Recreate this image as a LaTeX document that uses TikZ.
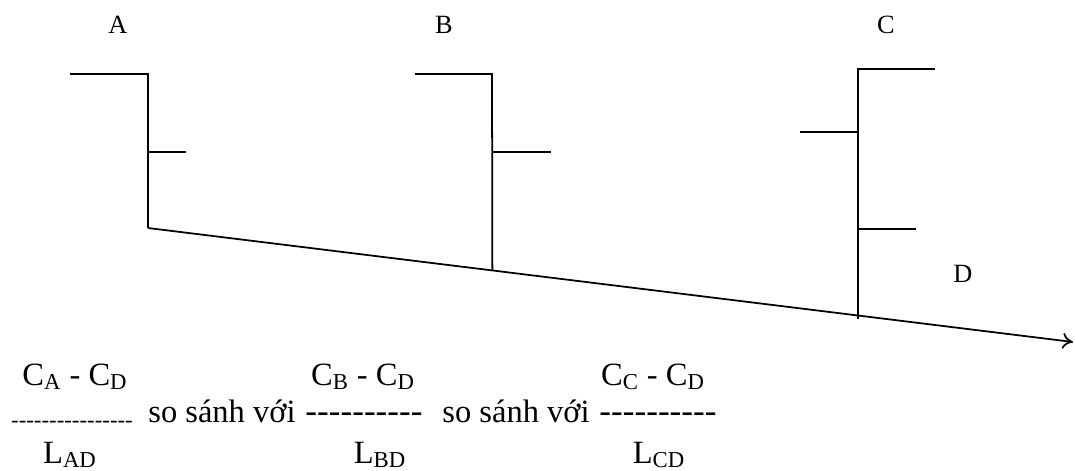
\documentclass[tikz,border=0pt]{standalone}
\usepackage{fontspec}
\setmainfont{Liberation Serif}
\usetikzlibrary{arrows.meta,calc}

\tikzset{
  pole/.style={line width=1pt},
  polename/.style={font=\fontsize{15}{18}\selectfont, inner sep=0pt, anchor=base},
  ratio/.style={font=\fontsize{18.5}{21}\selectfont, inner sep=0pt, anchor=base},
  dashes/.style={font=\fontsize{#1}{21}\selectfont\addfontfeature{Ligatures=TeXOff}, inner sep=0pt, anchor=base},
}

\begin{document}
\begin{tikzpicture}[x=0.02cm,y=-0.02cm]
\useasboundingbox (0,0) rectangle (1075,470);
% pole A
\coordinate (Atop) at (148,74);
\coordinate (Afoot) at (148,228);
\draw[pole] (70,74) -- (Atop) -- (Afoot);
\draw[pole] (148,152) -- (186,152);
\node[polename] (labA) at (118,33) {A};
% ground line
\coordinate (Dend) at (1073,342);
\draw[pole,-{To[length=6pt,width=9pt]}] (Afoot) -- (Dend);
% pole B
\coordinate (Btop) at (492,74);
\draw[pole] (415,74) -- (Btop) -- ($(Afoot)!0.3723!(Dend)$);
\draw[pole] (492,152) -- (551,152);
\node[polename] (labB) at (444,33) {B};
% pole C
\coordinate (Ctop) at (858,69);
\draw[pole] (935,69) -- (Ctop) -- (858,319);
\draw[pole] (800,132) -- (858,132);
\draw[pole] (858,229) -- (916,229);
\node[polename] (labC) at (886,33) {C};
\node[polename] (labD) at (963,282) {D};
% ratios
\node[ratio] (cad) at (75,385) {C\textsubscript{A} - C\textsubscript{D}};
\node[ratio] (cbd) at (363,385) {C\textsubscript{B} - C\textsubscript{D}};
\node[ratio] (ccd) at (653,385) {C\textsubscript{C} - C\textsubscript{D}};
\node[dashes=13] (dashA) at (72,427) {----------------};
\node[ratio] (cmp1) at (222,422) {so sánh với};
\node[dashes=20] (dashB) at (364,422) {----------};
\node[ratio] (cmp2) at (516,422) {so sánh với};
\node[dashes=20] (dashC) at (658,422) {----------};
\node[ratio] (lad) at (70,463) {L\textsubscript{AD}};
\node[ratio] (lbd) at (380,463) {L\textsubscript{BD}};
\node[ratio] (lcd) at (659,463) {L\textsubscript{CD}};
\end{tikzpicture}
\end{document}
